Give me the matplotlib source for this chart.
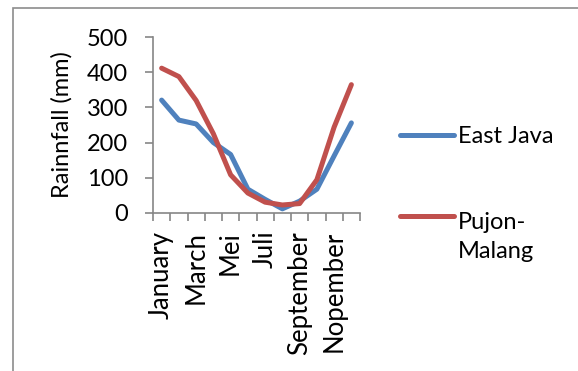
import matplotlib
matplotlib.use("Agg")
import matplotlib.pyplot as plt
from matplotlib.patches import Rectangle
from matplotlib.lines import Line2D

months = ["January", "February", "March", "April", "Mei", "Juni", "Juli",
          "Agustus", "September", "Oktober", "Nopember", "Desember"]
shown_labels = ["January", "", "March", "", "Mei", "", "Juli", "",
                "September", "", "Nopember", ""]
east_java = [321, 264, 253, 200, 166, 67, 38, 11, 33, 67, 162, 256]
pujon_malang = [412, 388, 320, 225, 108, 56, 30, 22, 26, 94, 244, 365]
series_names = ["East Java", "Pujon-\nMalang"]
series_colors = ['#4F81BD', '#C0504D']
yticks = [0, 100, 200, 300, 400, 500]

plt.rcParams['font.family'] = ['Lato', 'DejaVu Sans']

W, H = 578, 371
fig = plt.figure(figsize=(W / 100, H / 100), dpi=100)
fig.patch.set_facecolor('white')

def fx(px):
    return px / W

def fy(py):
    return 1 - py / H

# outer chart border
fig.patches.append(Rectangle((fx(13), fy(600)), 700 / W, (600 - 8) / H,
                             transform=fig.transFigure, fill=False,
                             edgecolor='#8c8c8c', linewidth=1.2))

ax = fig.add_axes([fx(153), fy(212.7), (360 - 153) / W, (212.7 - 37.3) / H])

x = list(range(len(months)))
lines = []
for vals, name, col in zip([east_java, pujon_malang], series_names, series_colors):
    ln, = ax.plot(x, vals, color=col, lw=3.6, solid_joinstyle='round',
                  solid_capstyle='round', label=name)
    lines.append(ln)

ax.set_xlim(-0.5, len(months) - 0.5)
ax.set_ylim(0, 500)
ax.set_yticks(yticks)
ax.set_yticklabels([str(v) for v in yticks], fontsize=17)

ax.set_xticks(x)
ax.set_xticklabels(shown_labels, rotation=90, fontsize=18.5, va='top', ha='center')
ax.set_xticks([i - 0.5 for i in range(len(months) + 1)], minor=True)
ax.tick_params(axis='x', which='major', length=0, pad=13)
ax.tick_params(axis='x', which='minor', length=6, width=1.2, color='#868686', direction='out')
ax.tick_params(axis='y', length=6, width=1.2, color='#868686', direction='out', pad=12)

for s in ['top', 'right']:
    ax.spines[s].set_visible(False)
for s in ['left', 'bottom']:
    ax.spines[s].set_color('#868686')
    ax.spines[s].set_linewidth(1.2)

ax.set_ylabel('Rainnfall (mm)', fontsize=17, labelpad=10)

# legend drawn by hand (Excel-style: handle aligned with first text line)
legend_y = [135, 216]
legend_last_baseline = [143, 258]
for ln, name, yy, yb in zip(lines, series_names, legend_y, legend_last_baseline):
    fig.lines.append(Line2D([fx(400), fx(454)], [fy(yy), fy(yy)],
                            transform=fig.transFigure, color=ln.get_color(),
                            lw=3.6, solid_capstyle='round'))
    fig.text(fx(458), fy(yb), name, fontsize=17, va='baseline', ha='left',
             linespacing=1.45)

fig.savefig('out.png', dpi=100)
